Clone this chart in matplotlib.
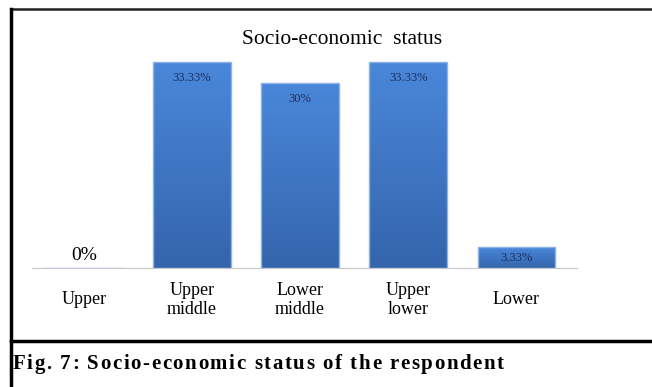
import numpy as np
import matplotlib.pyplot as plt
from matplotlib.lines import Line2D
from matplotlib.colors import LinearSegmentedColormap

categories = ['Upper', 'Upper\nmiddle', 'Lower\nmiddle', 'Upper\nlower', 'Lower']
values = [0, 33.33, 30, 33.33, 3.33]
labels = ['0%', '33.33%', '30%', '33.33%', '3.33%']

plt.rcParams['font.family'] = ['Liberation Serif', 'DejaVu Serif']

fig = plt.figure(figsize=(6.52, 3.87), dpi=100)
ax = fig.add_axes([0.049, 0.3075, 0.836, 0.638])

x = np.arange(len(categories))
bars = ax.bar(x, values, width=0.72, color='#4279c9', edgecolor='#8db2e8', linewidth=1)

# vertical gradient inside each bar
cmap = LinearSegmentedColormap.from_list('blu', ['#3465ac', '#4a87da'])
grad = np.linspace(0, 1, 100).reshape(-1, 1)
for b in bars:
    if b.get_height() <= 0:
        continue
    im = ax.imshow(grad, cmap=cmap, aspect='auto', origin='lower',
                   extent=[b.get_x(), b.get_x() + b.get_width(), 0, b.get_height()],
                   zorder=b.get_zorder())
    im.set_clip_path(b)
    b.set_facecolor('none')
    b.set_zorder(3)

for i, (v, lab) in enumerate(zip(values, labels)):
    if v == 0:
        ax.text(i, 2.1, lab, ha='center', va='center', fontsize=14)
    else:
        ax.text(i, max(v - 2.6, 1.6), lab, ha='center', va='center',
                fontsize=9, color='#1c2f5c', zorder=5)

ax.set_xlim(-0.48, 4.56)
ax.set_ylim(0, 40)
for s in ['top', 'right', 'left']:
    ax.spines[s].set_visible(False)
ax.spines['bottom'].set_color('#c8c8c8')
ax.set_yticks([])
ax.set_xticks(x)
ax.set_xticklabels(categories, fontsize=13, linespacing=1.15, va='center')
ax.tick_params(axis='x', length=0, pad=23)

fig.text(0.525, 0.897, 'Socio-economic  status', ha='center', va='center', fontsize=15.5)

# frame lines
fig.add_artist(Line2D([0.017, 1.0], [0.977, 0.977], color='#222222', linewidth=1.8))
fig.add_artist(Line2D([0.017, 0.017], [0.0, 0.977], color='black', linewidth=2.5))
fig.add_artist(Line2D([0.017, 1.0], [0.118, 0.118], color='black', linewidth=2.5))

# caption with slightly widened letter spacing
caption = 'Fig. 7: Socio-economic status of the respondent'
renderer = fig.canvas.get_renderer()
x0 = 0.019 * 652
extra = 1.6
probe = fig.text(0, 0, '', fontsize=15, fontweight='bold')
for i, ch in enumerate(caption):
    if ch == ' ':
        continue
    probe.set_text(caption[:i + 1])
    right = x0 + probe.get_window_extent(renderer).width + i * extra
    fig.text(right / 652, 0.059, ch, ha='right', va='center',
             fontsize=15, fontweight='bold')
probe.remove()

fig.savefig('out.png', dpi=100)
